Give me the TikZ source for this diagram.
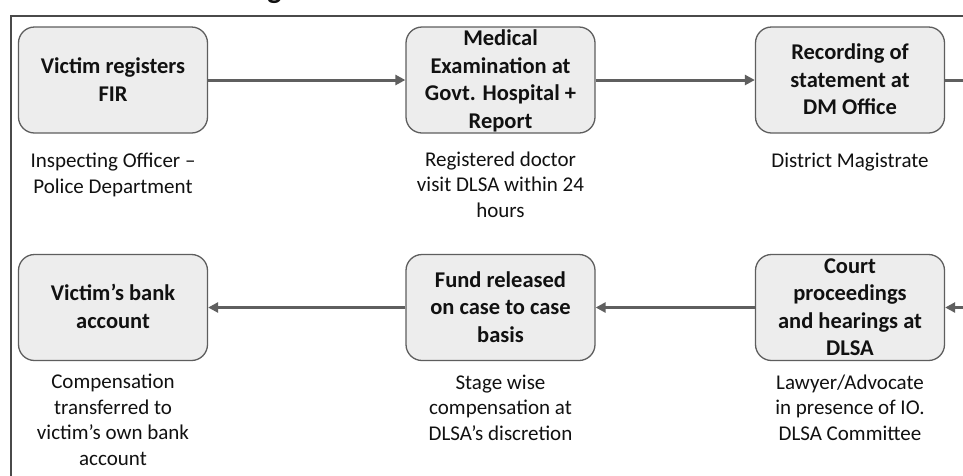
\documentclass[tikz,border=0pt]{standalone}
\usepackage{fontspec}
\setmainfont{Carlito}
\usetikzlibrary{arrows.meta}
\definecolor{boxfill}{HTML}{EDEDED}
\definecolor{boxline}{HTML}{5E5E5E}
\definecolor{flow}{HTML}{5F5F5F}
\definecolor{frame}{HTML}{4A4A4A}
\definecolor{ink}{HTML}{111111}
\tikzset{
  stage/.style={draw=boxline, fill=boxfill, line width=1.3pt, rounded corners=16pt,
    minimum width=189pt, minimum height=106pt, inner sep=0pt, align=center,
    text=ink, font=\bfseries\fontsize{22.5}{27.5}\selectfont},
  % multi-line texts are placed by the baseline of their last line
  stagetext/.style={anchor=base, align=center, text=ink, inner sep=0pt,
    font=\bfseries\fontsize{22.5}{27.5}\selectfont},
  caption/.style={anchor=base, align=center, text=ink, inner sep=0pt,
    font=\fontsize{21}{25.5}\selectfont},
  flowline/.style={draw=flow, line width=3pt,
    -{Triangle[length=10pt,width=10pt]}},
}
\begin{document}
\begin{tikzpicture}[x=1pt,y=-1pt]
\useasboundingbox (0,0) rectangle (963,475);
\fill[white] (0,0) rectangle (963,475);

% heading above the frame (only its descender falls inside the page)
\node[anchor=base, inner sep=0pt, text=ink, font=\bfseries\fontsize{30}{30}\selectfont] (head) at (274.5,-1.3) {g};

% frame
\draw[frame, line width=1.2pt] (11,476) -- (11,16) -- (964,16);

% stage boxes (shapes)
\node[stage] (fir)   at (113,80)  {};
\node[stage] (med)   at (500.5,80) {};
\node[stage] (dm)    at (850,80)  {};
\node[stage] (bank)  at (113,307.5) {};
\node[stage] (fund)  at (500.5,307.5) {};
\node[stage] (court) at (850,307.5) {};

% stage titles
\node[stagetext] (firT)   at (113,101)  {Victim registers\\FIR};
\node[stagetext] (medT)   at (500.5,128.25) {Medical\\Examination at\\Govt. Hospital +\\Report};
\node[stagetext] (dmT)    at (850,114.5) {Recording of\\statement at\\DM Office};
\node[stagetext] (bankT)  at (113,328)  {Victim’s bank\\account};
\node[stagetext] (fundT)  at (500.5,342) {Fund released\\on case to case\\basis};
\node[stagetext] (courtT) at (850,355.75) {Court\\proceedings\\and hearings at\\DLSA};

% responsible parties
\node[caption] (firC)   at (113,193)  {Inspecting Officer –\\Police Department};
\node[caption] (medC)   at (500.5,217) {Registered doctor\\visit DLSA within 24\\hours};
\node[caption] (dmC)    at (850,167)  {District Magistrate};
\node[caption] (bankC)  at (113,465)  {Compensation\\transferred to\\victim’s own bank\\account};
\node[caption] (fundC)  at (500.5,440) {Stage wise\\compensation at\\DLSA’s discretion};
\node[caption] (courtC) at (850,440)  {Lawyer/Advocate\\in presence of IO.\\DLSA Committee};

% flow
\coordinate (outR) at (966,80);
\coordinate (inR)  at (966,307.5);
\draw[flowline] (fir) -- (med);
\draw[flowline] (med) -- (dm);
\draw[draw=flow, line width=3pt] (dm) -- (outR);
\draw[flowline] (inR) -- (court);
\draw[flowline] (court) -- (fund);
\draw[flowline] (fund) -- (bank);
\end{tikzpicture}
\end{document}
